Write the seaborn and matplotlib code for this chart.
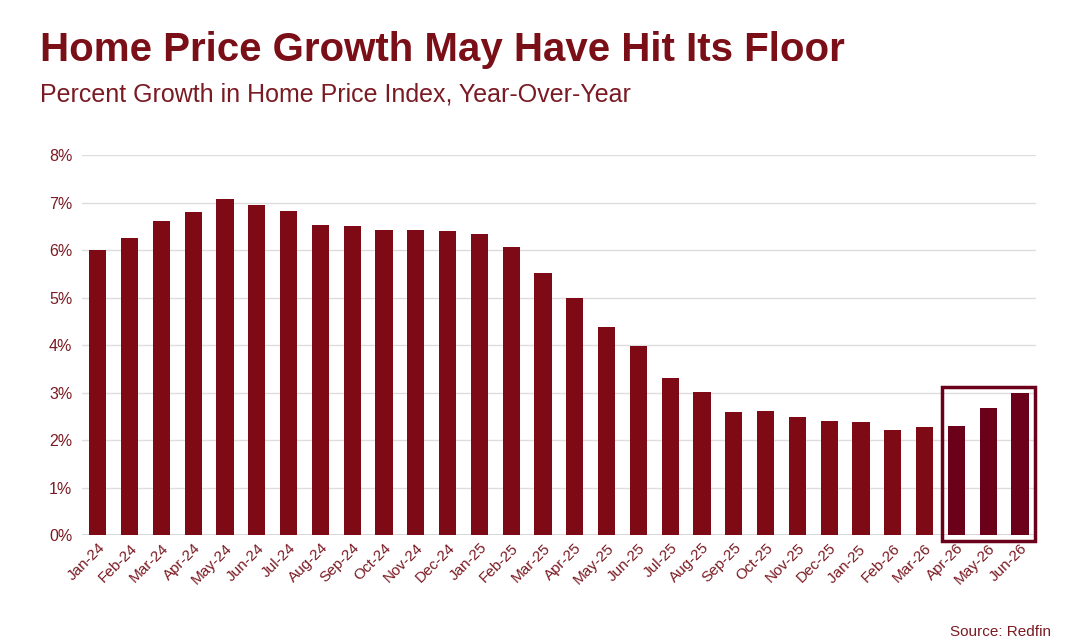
import numpy as np
import pandas as pd
import matplotlib
matplotlib.use('Agg')
import matplotlib.pyplot as plt
import seaborn as sns
from matplotlib.patches import Rectangle
from matplotlib.ticker import PercentFormatter

# data
months = ['Jan-24', 'Feb-24', 'Mar-24', 'Apr-24', 'May-24', 'Jun-24', 'Jul-24', 'Aug-24',
          'Sep-24', 'Oct-24', 'Nov-24', 'Dec-24', 'Jan-25', 'Feb-25', 'Mar-25', 'Apr-25',
          'May-25', 'Jun-25', 'Jul-25', 'Aug-25', 'Sep-25', 'Oct-25', 'Nov-25', 'Dec-25',
          'Jan-25 ', 'Feb-26', 'Mar-26', 'Apr-26', 'May-26', 'Jun-26']
growth = [6.00, 6.25, 6.61, 6.80, 7.07, 6.95, 6.82, 6.53,
          6.50, 6.42, 6.42, 6.40, 6.34, 6.06, 5.53, 4.99,
          4.38, 3.98, 3.31, 3.01, 2.59, 2.61, 2.48, 2.40,
          2.38, 2.21, 2.27, 2.29, 2.67, 2.99]
highlight = ['Apr-26', 'May-26', 'Jun-26']

red = '#7d0a14'
dark = '#6a0019'
txt = '#7a1a22'

sns.set_style('white')
plt.rcParams['font.family'] = ['Liberation Sans', 'DejaVu Sans']

df = pd.DataFrame({'month': months, 'growth': growth})
df['grp'] = np.where(df['month'].isin(highlight), 'proj', 'hist')

fig = plt.figure(figsize=(10.7, 6.44), dpi=100)
ax = fig.add_axes([0.0766, 0.169, 0.8915, 0.59])
sns.barplot(data=df, x='month', y='growth', hue='grp', palette={'hist': red, 'proj': dark},
            width=0.54, dodge=False, legend=False, saturation=1, linewidth=0, ax=ax)

ax.set_ylim(0, 8)
ax.set_xlim(-0.5, len(months) - 0.5)
ax.yaxis.set_major_formatter(PercentFormatter(decimals=0))
ax.set_yticks(range(0, 9))
ax.grid(axis='y', color='#dddddd', linewidth=1)
ax.set_axisbelow(True)
sns.despine(ax=ax, left=True, bottom=True, top=True, right=True)
ax.axhline(0, color='#d0d0d0', linewidth=1.2, zorder=0)
ax.set_xlabel('')
ax.set_ylabel('')
ax.tick_params(axis='y', labelsize=11.5, labelcolor=txt, length=0, pad=7)
ax.tick_params(axis='x', labelsize=11, labelcolor=txt, length=0, pad=4)
plt.setp(ax.get_xticklabels(), rotation=45, ha='right', rotation_mode='anchor')

# box round the last three months
i0 = months.index('Apr-26')
ax.add_patch(Rectangle((i0 - 0.45, -0.13), 2.93, 3.24, fill=False, edgecolor=dark,
                       linewidth=2.5, clip_on=False, zorder=5))

fig.text(0.037, 0.905, 'Home Price Growth May Have Hit Its Floor', fontsize=29,
         fontweight='bold', color='#7a0f18')
fig.text(0.037, 0.843, 'Percent Growth in Home Price Index, Year-Over-Year', fontsize=18,
         color=txt)
fig.text(0.982, 0.012, 'Source: Redfin', fontsize=11, color=txt, ha='right')

fig.savefig('out.png', dpi=100, facecolor='white')
